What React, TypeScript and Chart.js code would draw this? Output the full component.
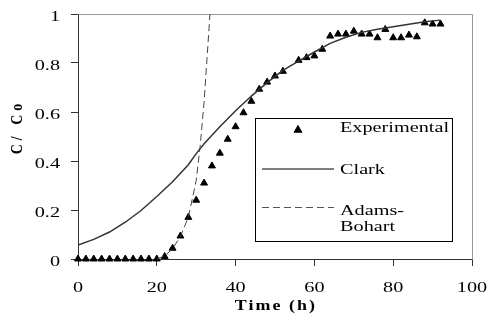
import React, { useEffect, useRef } from "react";
import { Chart, registerables } from "chart.js";

Chart.register(...registerables);

// Experimental data (time h, C/Co)
const expTime = [0, 2, 4, 6, 8, 10, 12, 14, 16, 18, 20, 22, 24, 26, 28, 30, 32, 34, 36, 38, 40, 42, 44, 46, 48, 50, 52, 56, 58, 60, 62, 64, 66, 68, 70, 72, 74, 76, 78, 80, 82, 84, 86, 88, 90, 92];
const expValue = [0, 0, 0, 0, 0, 0, 0, 0, 0, 0, 0, 0.01, 0.044, 0.094, 0.17, 0.24, 0.31, 0.38, 0.432, 0.489, 0.54, 0.597, 0.644, 0.693, 0.722, 0.747, 0.766, 0.811, 0.822, 0.829, 0.856, 0.91, 0.918, 0.918, 0.93, 0.918, 0.918, 0.903, 0.937, 0.903, 0.903, 0.914, 0.907, 0.964, 0.959, 0.959];

// Clark model
const clarkTime = [0, 4, 8, 12, 16, 20, 24, 28, 30, 32, 36, 40, 44, 48, 52, 56, 60, 64, 68, 72, 76, 80, 84, 88, 92];
const clarkValue = [0.057, 0.08, 0.11, 0.15, 0.198, 0.255, 0.315, 0.385, 0.43, 0.47, 0.54, 0.605, 0.665, 0.72, 0.77, 0.808, 0.845, 0.88, 0.905, 0.925, 0.938, 0.948, 0.958, 0.968, 0.975];

// Adams-Bohart model
const adamsTime = [20, 22, 24, 26, 28, 30, 31, 32, 33.5];
const adamsValue = [0, 0.012, 0.042, 0.092, 0.17, 0.32, 0.46, 0.64, 1.0];

const xTicks = [0, 20, 40, 60, 80, 100];
const yTicks = [0, 0.2, 0.4, 0.6, 0.8, 1];

const legendLabels = ["Experimental", "Clark", "Adams-", "Bohart"];
const xTitle = "Time (h)";
const yTitle = "C/ Co";

const SERIF = '"Liberation Serif", "Times New Roman", serif';
const SX = 1.35;

const zip = (xs: number[], ys: number[]) => xs.map((x, i) => ({ x, y: ys[i] }));
const fmt = (v: number) => String(Math.round(v * 10) / 10);

function stretchedText(ctx: CanvasRenderingContext2D, text: string, x: number, y: number, align: CanvasTextAlign, sx: number) {
  ctx.save();
  ctx.translate(x, y);
  ctx.scale(sx, 1);
  ctx.textAlign = align;
  ctx.fillText(text, 0, 0);
  ctx.restore();
}

const framePlugin = {
  id: "frame",
  beforeDatasetsDraw(chart: any) {
    const { ctx, chartArea } = chart;
    ctx.save();
    ctx.strokeStyle = "#999";
    ctx.lineWidth = 1;
    ctx.beginPath();
    ctx.moveTo(Math.round(chartArea.left) + 0.5, Math.round(chartArea.top) + 0.5);
    ctx.lineTo(Math.round(chartArea.right) + 0.5, Math.round(chartArea.top) + 0.5);
    ctx.lineTo(Math.round(chartArea.right) + 0.5, Math.round(chartArea.bottom) + 0.5);
    ctx.stroke();
    ctx.restore();
  },
  afterDraw(chart: any) {
    const { ctx } = chart;
    const xs = chart.scales.x;
    const ys = chart.scales.y;
    ctx.save();
    ctx.fillStyle = "#000";
    ctx.textBaseline = "alphabetic";

    // Tick labels (from the scales' ticks)
    ctx.font = `15px ${SERIF}`;
    xs.ticks.forEach((t: any) => {
      stretchedText(ctx, fmt(t.value), xs.getPixelForValue(t.value), 291.5, "center", SX);
    });
    ys.ticks.forEach((t: any) => {
      stretchedText(ctx, fmt(t.value), 60, ys.getPixelForValue(t.value) + 6.5, "right", SX);
    });

    // Axis titles
    ctx.font = `bold 14px ${SERIF}`;
    ctx.letterSpacing = "1.6px";
    ctx.textBaseline = "middle";
    stretchedText(ctx, xTitle, 276, 306, "center", 1.28);
    ctx.save();
    ctx.translate(18, 129);
    ctx.rotate(-Math.PI / 2);
    ctx.scale(1, 1.2);
    ctx.font = `bold 14px ${SERIF}`;
    ctx.letterSpacing = "4px";
    ctx.textAlign = "center";
    ctx.fillText(yTitle, 2, 0);
    ctx.restore();
    ctx.letterSpacing = "0px";

    // Legend box
    ctx.fillStyle = "#fff";
    ctx.fillRect(255, 118, 197, 123);
    ctx.strokeStyle = "#000";
    ctx.lineWidth = 1;
    ctx.strokeRect(255.5, 118.5, 197, 123);

    // Experimental triangle
    const r = 4.5;
    const cx = 298, cy = 130;
    ctx.fillStyle = "#000";
    ctx.beginPath();
    let rad = 0;
    ctx.moveTo(cx + Math.sin(rad) * r, cy - Math.cos(rad) * r);
    rad += (2 * Math.PI) / 3;
    ctx.lineTo(cx + Math.sin(rad) * r, cy - Math.cos(rad) * r);
    rad += (2 * Math.PI) / 3;
    ctx.lineTo(cx + Math.sin(rad) * r, cy - Math.cos(rad) * r);
    ctx.closePath();
    ctx.fill();
    ctx.strokeStyle = "#000";
    ctx.stroke();

    // Clark sample
    ctx.strokeStyle = "#555";
    ctx.lineWidth = 1.5;
    ctx.beginPath();
    ctx.moveTo(262, 169);
    ctx.lineTo(334, 169);
    ctx.stroke();

    // Adams sample
    ctx.lineWidth = 1;
    ctx.strokeStyle = "#555";
    ctx.setLineDash([7, 4]);
    ctx.beginPath();
    ctx.moveTo(262, 207.5);
    ctx.lineTo(334, 207.5);
    ctx.stroke();
    ctx.setLineDash([]);

    ctx.fillStyle = "#000";
    ctx.font = `15px ${SERIF}`;
    ctx.textBaseline = "alphabetic";
    stretchedText(ctx, legendLabels[0], 340, 132, "left", SX);
    stretchedText(ctx, legendLabels[1], 340, 174, "left", SX);
    stretchedText(ctx, legendLabels[2], 340, 214.5, "left", SX);
    stretchedText(ctx, legendLabels[3], 340, 231, "left", SX);
    ctx.restore();
  },
};

export default function App() {
  const ref = useRef<HTMLCanvasElement | null>(null);
  useEffect(() => {
    if (!ref.current) return;
    const chart = new Chart(ref.current, {
      type: "scatter",
      data: {
        datasets: [
          {
            label: "Adams-Bohart",
            data: zip(adamsTime, adamsValue),
            showLine: true,
            borderColor: "#444",
            borderWidth: 1,
            borderDash: [7, 4],
            pointRadius: 0,
            tension: 0,
            clip: false as any,
          },
          {
            label: "Clark",
            data: zip(clarkTime, clarkValue),
            showLine: true,
            borderColor: "#333",
            borderWidth: 1.5,
            pointRadius: 0,
            tension: 0,
          },
          {
            label: "Experimental",
            data: zip(expTime, expValue),
            showLine: false,
            pointStyle: "triangle",
            pointRadius: 4,
            pointBorderWidth: 1,
            pointBackgroundColor: "#000",
            pointBorderColor: "#000",
            clip: false as any,
          },
        ],
      },
      options: {
        responsive: false,
        animation: false,
        devicePixelRatio: 1,
        layout: { padding: { top: 14, right: 16, left: 0, bottom: 0 } },
        plugins: {
          legend: { display: false },
          tooltip: { enabled: false },
          title: { display: false },
        },
        scales: {
          x: {
            type: "linear",
            min: 0,
            max: 100,
            afterFit: (s: any) => {
              s.height = 57;
            },
            afterBuildTicks: (s: any) => {
              s.ticks = xTicks.map((v) => ({ value: v }));
            },
            border: { display: true, color: "#333", width: 1 },
            grid: { drawOnChartArea: false, drawTicks: true, tickLength: 7, tickColor: "#333" },
            ticks: {
              display: false,
              callback: (v: any) => fmt(Number(v)),
            },
          },
          y: {
            type: "linear",
            min: 0,
            max: 1,
            afterFit: (s: any) => {
              s.width = 78;
            },
            afterBuildTicks: (s: any) => {
              s.ticks = yTicks.map((v) => ({ value: v }));
            },
            border: { display: true, color: "#333", width: 1 },
            grid: { drawOnChartArea: false, drawTicks: true, tickLength: 7, tickColor: "#333" },
            ticks: {
              display: false,
              callback: (v: any) => fmt(Number(v)),
            },
          },
        },
      },
      plugins: [framePlugin],
    });
    return () => chart.destroy();
  }, []);
  return (
    <div style={{ position: "absolute", left: 0, top: 0, width: 488, height: 316, background: "#fff" }}>
      <canvas ref={ref} width={488} height={316} />
    </div>
  );
}
